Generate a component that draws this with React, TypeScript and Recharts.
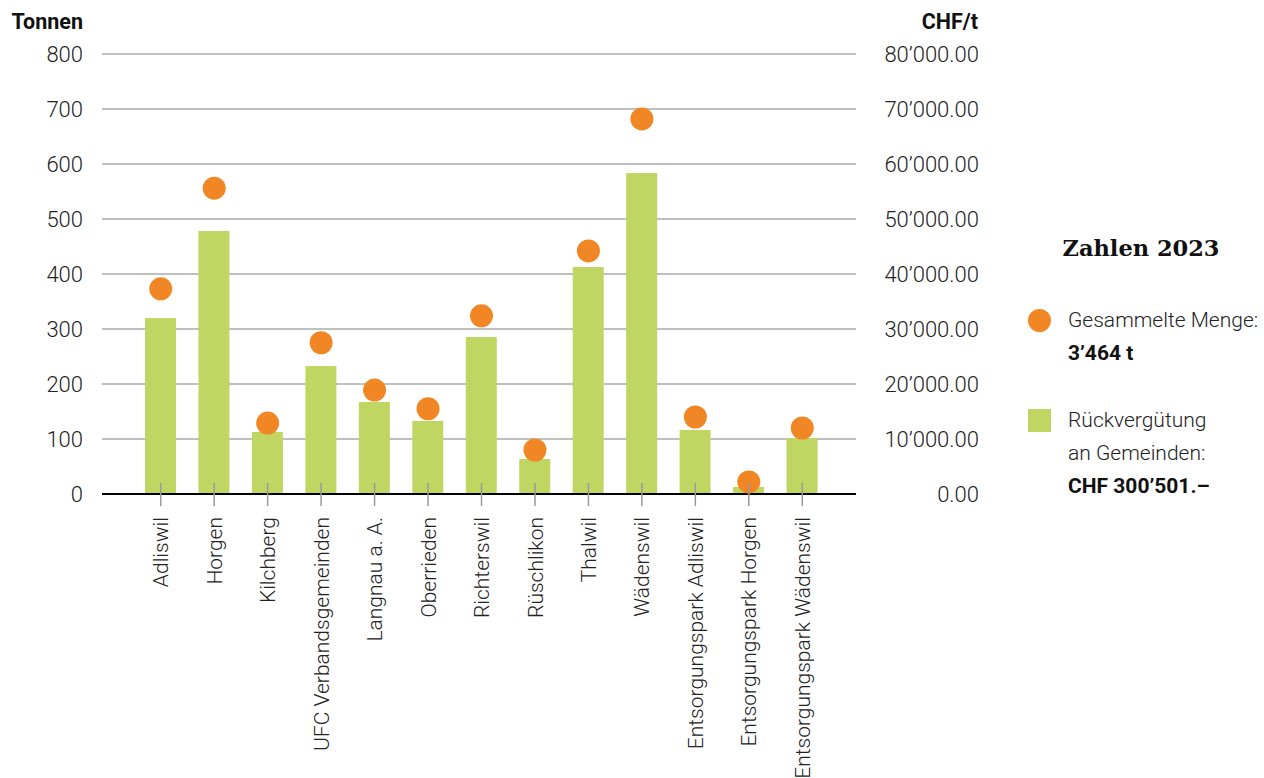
import { ComposedChart, Bar, Scatter, XAxis, YAxis, CartesianGrid } from "recharts";

const gemeinden = [
  "Adliswil",
  "Horgen",
  "Kilchberg",
  "UFC Verbandsgemeinden",
  "Langnau a. A.",
  "Oberrieden",
  "Richterswil",
  "Rüschlikon",
  "Thalwil",
  "Wädenswil",
  "Entsorgungspark Adliswil",
  "Entsorgungspark Horgen",
  "Entsorgungspark Wädenswil",
];

// Gesammelte Menge (t) – orange Punkte, linke Achse
const tonnen = [373, 556, 129, 275, 189, 155, 324, 80, 442, 682, 140, 22, 120];

// Rückvergütung (CHF) – grüne Balken, rechte Achse
const rueckverguetung = [32000, 47800, 11270, 23270, 16730, 13270, 28550, 6360, 41270, 58360, 11640, 1270, 10180];

const tonnenTicks = [0, 100, 200, 300, 400, 500, 600, 700, 800];
const chfTicks = [0, 10000, 20000, 30000, 40000, 50000, 60000, 70000, 80000];

const data = gemeinden.map((name, i) => ({
  name,
  tonnen: tonnen[i],
  chf: rueckverguetung[i],
}));

const ORANGE = "#F18724";
const GREEN = "#BFD662";
const FONT = "Roboto, 'Noto Sans', sans-serif";

function fmtChf(v: number): string {
  const int = Math.round(v)
    .toString()
    .replace(/\B(?=(\d{3})+(?!\d))/g, "\u2019");
  return `${int}.00`;
}

function XTick(props: any) {
  const { x, y, payload } = props;
  return (
    <g>
      <line x1={x} x2={x} y1={y - 11} y2={y + 12} stroke="#999" strokeWidth={1.5} />
      <text
        x={x}
        y={y + 23}
        transform={`rotate(-90, ${x}, ${y + 23})`}
        textAnchor="end"
        dy="0.36em"
        fontFamily={FONT}
        fontWeight={300}
        fontSize={21}
        fill="#222"
      >
        {payload.value}
      </text>
    </g>
  );
}

function LeftTick(props: any) {
  const { x, y, payload } = props;
  return (
    <text x={x - 19} y={y} dy="0.36em" textAnchor="end" fontFamily={FONT} fontWeight={300} fontSize={22} fill="#222">
      {payload.value}
    </text>
  );
}

function RightTick(props: any) {
  const { x, y, payload } = props;
  return (
    <text x={x + 123} y={y} dy="0.36em" textAnchor="end" fontFamily={FONT} fontWeight={300} fontSize={22} fill="#222">
      {fmtChf(payload.value)}
    </text>
  );
}

const dot = (props: any) => <circle cx={props.cx} cy={props.cy} r={11.5} fill={ORANGE} />;

export default function App() {
  return (
    <div style={{ position: "absolute", left: 0, top: 0, width: 1264, height: 778, background: "#fff", fontFamily: FONT }}>
      <div style={{ position: "absolute", right: 1264 - 83, top: 9, fontWeight: 700, fontSize: 21.5, color: "#111" }}>
        Tonnen
      </div>
      <div style={{ position: "absolute", right: 1264 - 978, top: 9, fontWeight: 700, fontSize: 21.5, color: "#111" }}>
        CHF/t
      </div>

      <ComposedChart width={1264} height={778} data={data} margin={{ top: 54, right: 278, bottom: 4, left: 0 }}>
        <CartesianGrid yAxisId="t" vertical={false} stroke="#aaa" strokeWidth={1.5} />
        <YAxis
          yAxisId="t"
          orientation="left"
          domain={[0, 800]}
          ticks={tonnenTicks}
          width={102}
          axisLine={false}
          tickLine={false}
          tickSize={0}
          tickMargin={0}
          tick={<LeftTick />}
        />
        <YAxis
          yAxisId="chf"
          orientation="right"
          domain={[0, 80000]}
          ticks={chfTicks}
          width={130}
          axisLine={false}
          tickLine={false}
          tickSize={0}
          tickMargin={0}
          tick={<RightTick />}
        />
        <Bar yAxisId="chf" dataKey="chf" fill={GREEN} barSize={31} isAnimationActive={false} />
        <XAxis
          dataKey="name"
          interval={0}
          height={280}
          padding={{ left: 32, right: 27 }}
          axisLine={{ stroke: "#000", strokeWidth: 2 }}
          tickLine={false}
          tickSize={0}
          tickMargin={0}
          tick={<XTick />}
        />
        <Scatter yAxisId="t" dataKey="tonnen" fill={ORANGE} shape={dot} isAnimationActive={false} />
      </ComposedChart>

      <div style={{ position: "absolute", left: 1060, top: 235, width: 162, textAlign: "center", fontFamily: "'DejaVu Serif', serif", fontWeight: 700, fontSize: 22.5, color: "#111", whiteSpace: "nowrap" }}>
        Zahlen 2023
      </div>
      <div style={{ position: "absolute", left: 1028, top: 309, width: 23, height: 23, borderRadius: "50%", background: ORANGE }} />
      <div style={{ position: "absolute", left: 1068, top: 304, fontSize: 21, lineHeight: "33px", fontWeight: 300, color: "#222", whiteSpace: "nowrap" }}>
        Gesammelte Menge:
        <br />
        <span style={{ fontWeight: 700, color: "#111" }}>3’464 t</span>
      </div>
      <div style={{ position: "absolute", left: 1028, top: 409, width: 23, height: 23, background: GREEN }} />
      <div style={{ position: "absolute", left: 1068, top: 404, fontSize: 21, lineHeight: "33px", fontWeight: 300, color: "#222", whiteSpace: "nowrap" }}>
        Rückvergütung
        <br />
        an Gemeinden:
        <br />
        <span style={{ fontWeight: 700, color: "#111" }}>CHF 300’501.–</span>
      </div>
    </div>
  );
}
